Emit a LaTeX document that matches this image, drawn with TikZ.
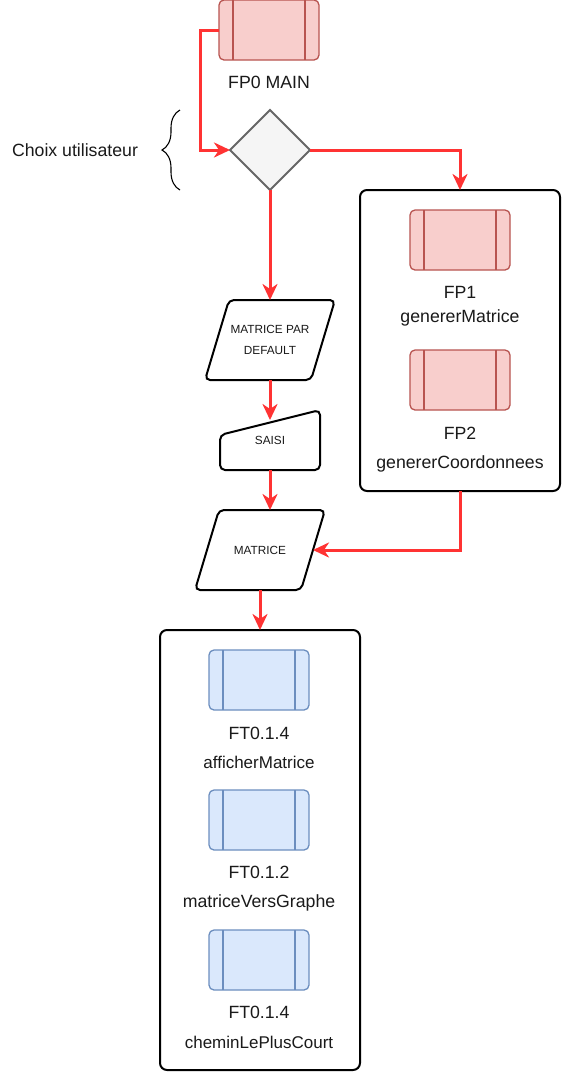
\documentclass[tikz,border=0pt]{standalone}
\usepackage{fontspec}
\setmainfont{Liberation Sans}
\usetikzlibrary{shapes.geometric,arrows.meta,decorations.pathreplacing}
\definecolor{redfill}{HTML}{F8CECC}
\definecolor{redline}{HTML}{B85450}
\definecolor{bluefill}{HTML}{DAE8FC}
\definecolor{blueline}{HTML}{6C8EBF}
\definecolor{grayfill}{HTML}{F5F5F5}
\definecolor{grayline}{HTML}{666666}
\definecolor{flow}{HTML}{FF3333}
\definecolor{txt}{HTML}{1A1A1A}
\tikzset{
  proc/.style={rectangle, rounded corners=5pt, minimum width=100pt, minimum height=60pt,
    inner sep=0pt, outer sep=0pt, line width=1.3pt,
    path picture={\draw[line width=1.3pt,#1]
      ([xshift=14pt]path picture bounding box.north west) -- ([xshift=14pt]path picture bounding box.south west)
      ([xshift=-14pt]path picture bounding box.north east) -- ([xshift=-14pt]path picture bounding box.south east);}},
  redproc/.style={proc=redline, draw=redline, fill=redfill},
  blueproc/.style={proc=blueline, draw=blueline, fill=bluefill},
  container/.style={rectangle, draw=black, line width=2pt, rounded corners=7pt, fill=white,
    inner sep=0pt, outer sep=0pt},
  iobox/.style={rectangle, minimum width=130pt, minimum height=80pt, inner sep=0pt, outer sep=0pt,
    align=center, text=txt, font=\fontsize{11.8}{14}\selectfont},
  shapeline/.style={draw=black, line width=2pt, rounded corners=5pt, fill=white},
  lbl/.style={inner sep=0pt, text=txt, text height=12.7pt, text depth=0pt,
    font=\fontsize{17.7}{20}\selectfont},
  lbls/.style={inner sep=0pt, text=txt, text height=12.2pt, text depth=0pt,
    font=\fontsize{17}{19}\selectfont},
  flowarrow/.style={draw=flow, line width=3pt,
    -{Stealth[length=16pt,width=15pt,inset=5pt]}},
}
\begin{document}
\begin{tikzpicture}[x=1pt,y=-1pt]
\useasboundingbox[fill=white] (0,0) rectangle (562,1072);

% top
\node[redproc] (fp0) at (269,30) {};
\node[lbl] (fp0l) at (269,82) {FP0 MAIN};
\node[diamond, minimum width=80pt, minimum height=80pt, aspect=1, inner sep=0pt, outer sep=0pt,
  draw=grayline, fill=grayfill, line width=2pt] (dia) at (270,150) {};
\node[lbl] (choix) at (75,150) {Choix utilisateur};
\coordinate (bb) at (180,190);
\coordinate (bt) at (180,110);
\draw[decorate, decoration={brace, amplitude=18pt}, line width=1.1pt] (bb) -- (bt);

% right container
\node[container, minimum width=200pt, minimum height=301pt] (c1) at (460,340.5) {};
\node[redproc] (fp1) at (460,240) {};
\node[lbl] (fp1a) at (460,292) {FP1};
\node[lbl] (fp1b) at (460,316) {genererMatrice};
\node[redproc] (fp2) at (460,380) {};
\node[lbl] (fp2a) at (460,433) {FP2};
\node[lbl] (fp2b) at (460,462) {genererCoordonnees};

% left column
\node[iobox] (mpd) at (270,340) {};
\draw[shapeline] ([xshift=24pt]mpd.north west) -- (mpd.north east)
  -- ([xshift=-24pt]mpd.south east) -- (mpd.south west) -- cycle;
\node[text=txt, font=\fontsize{11.8}{14}\selectfont, align=center, inner sep=0pt] (mpdt) at (mpd.center) {MATRICE PAR\\[7pt]DEFAULT};

\node[rectangle, minimum width=100pt, minimum height=60pt, inner sep=0pt, outer sep=0pt] (saisi) at (270,440) {};
\draw[shapeline]
  ([yshift=-25pt]saisi.north west) -- (saisi.north east) -- (saisi.south east) -- (saisi.south west) -- cycle;
\node[text=txt, font=\fontsize{11.8}{14}\selectfont, inner sep=0pt] (saisit) at (saisi.center) {SAISI};

\node[iobox] (mat) at (260,550) {};
\draw[shapeline] ([xshift=24pt]mat.north west) -- (mat.north east)
  -- ([xshift=-24pt]mat.south east) -- (mat.south west) -- cycle;
\node[text=txt, font=\fontsize{11.8}{14}\selectfont, inner sep=0pt] (matt) at (mat.center) {MATRICE};
\coordinate (matR) at ([xshift=-12pt]mat.east);

% bottom container
\node[container, minimum width=200pt, minimum height=440pt] (c2) at (260,850) {};
\node[blueproc] (ft1) at (259,680) {};
\node[lbl] (ft1a) at (259,733) {FT0.1.4};
\node[lbls] (ft1b) at (259,762) {afficherMatrice};
\node[blueproc] (ft2) at (259,820) {};
\node[lbl] (ft2a) at (259,872) {FT0.1.2};
\node[lbl] (ft2b) at (259,901) {matriceVersGraphe};
\node[blueproc] (ft3) at (259,960) {};
\node[lbl] (ft3a) at (259,1012) {FT0.1.4};
\node[lbls] (ft3b) at (259,1042) {cheminLePlusCourt};

% connectors
\draw[flowarrow] (fp0.west) -- ++(-19,0) |- (dia.west);
\draw[flowarrow] (dia.east) -| (c1.north);
\draw[flowarrow] (dia.south) -- (mpd.north);
\draw[flowarrow] (mpd.south) -- ([yshift=-10pt]saisi.north);
\draw[flowarrow] (saisi.south) -- (saisi.south |- mat.north);
\draw[flowarrow] (c1.south) |- (matR);
\draw[flowarrow] (mat.south) -- (c2.north);
\end{tikzpicture}
\end{document}
